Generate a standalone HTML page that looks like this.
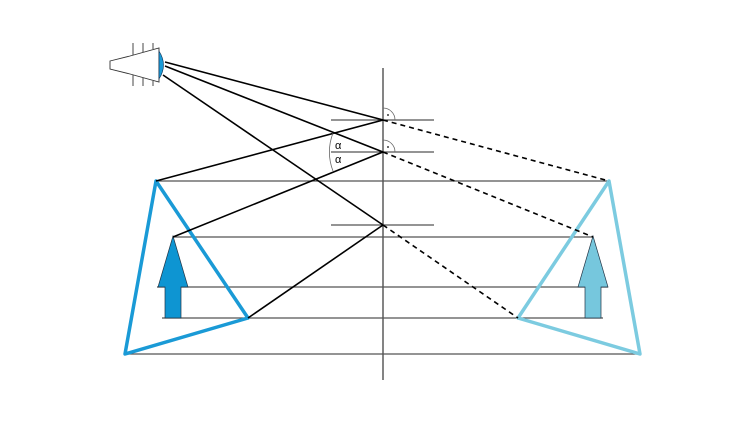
<!DOCTYPE html>
<html><head><style>body{margin:0;background:#fff}svg{display:block}</style></head><body>
<svg width="750" height="421" viewBox="0 0 750 421" xmlns="http://www.w3.org/2000/svg">
<g stroke="#555" stroke-width="1.2" fill="none">
<line x1="383" y1="68" x2="383" y2="380" stroke="#333"/>
<line x1="331" y1="120" x2="434" y2="120"/>
<line x1="331" y1="152" x2="434" y2="152"/>
<line x1="331" y1="225" x2="434" y2="225"/>
<line x1="156" y1="181" x2="609" y2="181"/>
<line x1="173" y1="237" x2="593" y2="237"/>
<line x1="157" y1="287" x2="608" y2="287"/>
<line x1="162" y1="318" x2="603" y2="318"/>
<line x1="125" y1="354" x2="640" y2="354"/>
</g>
<!-- arrows -->
<polygon points="173,236 158,287 165,287 165,318 181,318 181,287 188,287" fill="#0e95d2" stroke="#234" stroke-width="0.7"/>
<polygon points="593,236 578,287 585,287 585,318 601,318 601,287 608,287" fill="#76c7dd" stroke="#234" stroke-width="0.7"/>
<!-- triangles -->
<polygon points="156,181 248,318 125,354" fill="none" stroke="#1a9ad6" stroke-width="3.5" stroke-linejoin="round"/>
<polygon points="609,181 518,318 640,354" fill="none" stroke="#7ccbe0" stroke-width="3.5" stroke-linejoin="round"/>
<!-- rays -->
<g stroke="#000" stroke-width="1.6" fill="none">
<line x1="165" y1="62" x2="383" y2="120"/>
<line x1="165" y1="66" x2="383" y2="152"/>
<line x1="163" y1="75" x2="383" y2="225"/>
<line x1="383" y1="120" x2="156" y2="181"/>
<line x1="383" y1="152" x2="173" y2="237"/>
<line x1="383" y1="225" x2="248" y2="318"/>
</g>
<g stroke="#000" stroke-width="1.6" stroke-dasharray="5,4" fill="none">
<line x1="383" y1="120" x2="609" y2="181"/>
<line x1="383" y1="152" x2="593" y2="237"/>
<line x1="383" y1="225" x2="518" y2="318"/>
</g>
<!-- angle marks -->
<g stroke="#666" stroke-width="0.8" fill="none">
<path d="M383,108 A12,12 0 0 1 395,120"/>
<path d="M383,140 A12,12 0 0 1 395,152"/>
<path d="M333,133 A52,52 0 0 0 333,171"/>
</g>
<circle cx="388" cy="115" r="0.9" fill="#000"/>
<circle cx="388" cy="147" r="0.9" fill="#000"/>
<text x="335" y="149" font-family="Liberation Sans, sans-serif" font-size="11">α</text>
<text x="335" y="163" font-family="Liberation Sans, sans-serif" font-size="11">α</text>
<!-- eye -->
<polygon points="110,61 130,56 159,48 159,82 130,74 110,69" fill="#fff" stroke="#333" stroke-width="0.9"/>
<g stroke="#333" stroke-width="0.9">
<line x1="133" y1="43" x2="133" y2="55"/><line x1="143" y1="43" x2="143" y2="52"/><line x1="153" y1="43" x2="153" y2="49"/>
<line x1="133" y1="75" x2="133" y2="86"/><line x1="143" y1="78" x2="143" y2="86"/><line x1="153" y1="81" x2="153" y2="86"/>
</g>
<path d="M159,51 Q168,65 159,79 Z" fill="#1a9ad6" stroke="#135" stroke-width="0.6"/>
</svg>
</body></html>
